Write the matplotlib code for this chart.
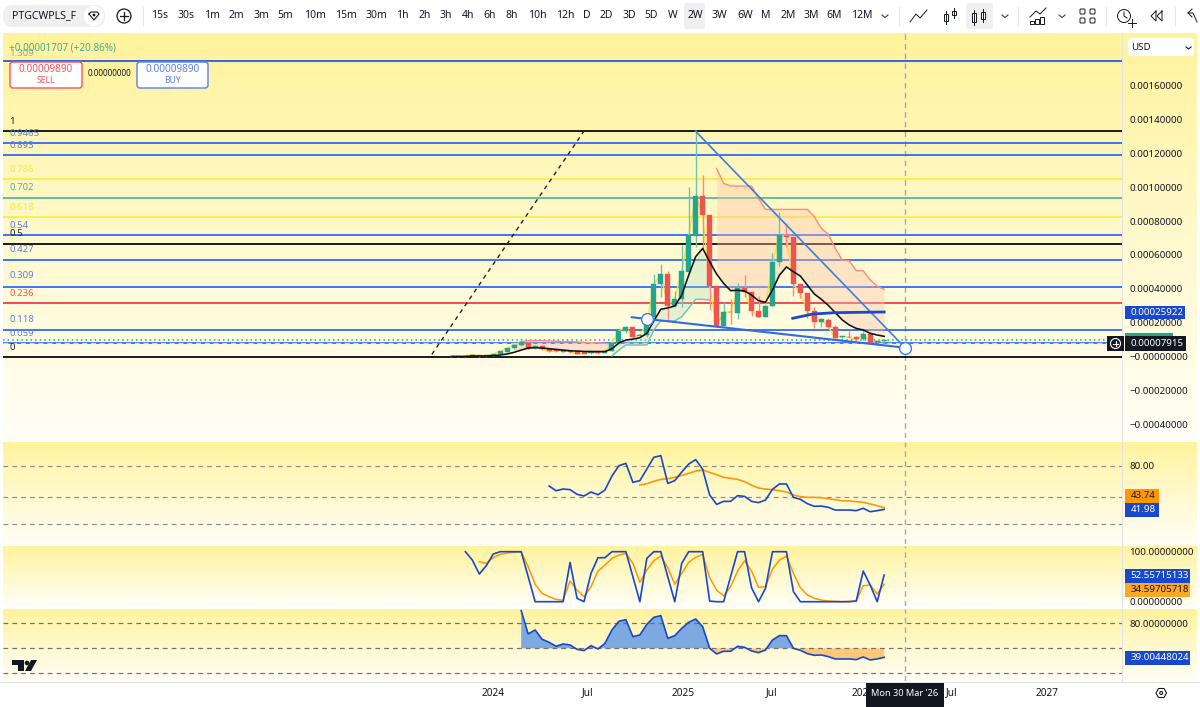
# -*- coding: utf-8 -*-
"""PTGCWPLS 2W chart with fib levels and three lower panes."""
import numpy as np
import matplotlib
matplotlib.use("Agg")
import matplotlib.pyplot as plt
from matplotlib.colors import LinearSegmentedColormap
from matplotlib.patches import Rectangle, FancyBboxPatch, Circle, Polygon

plt.rcParams["font.family"] = ["Noto Sans", "DejaVu Sans"]

W, H = 1200, 707
PRICE_UNIT = 1e-4

# candles, price in 1e-4 USD
opens = [.01,.01,.03,.05,.07,.03,.03,.15,.27,.48,.68,.82,.48,.64,.46,.40,.29,.34,.30,.29,.19,
         .30,.21,.34,.78,1.53,1.72,1.21,1.27,2.35,4.28,4.85,3.00,3.40,5.01,7.14,9.48,8.36,4.16,
         1.80,2.65,2.59,4.03,3.83,2.69,2.33,2.98,5.60,7.14,7.08,4.26,3.73,2.67,2.06,2.16,1.76,
         1.13,1.17,1.13,1.01,1.31,.86,.90]
closes = [.03,.03,.05,.11,.03,.07,.15,.31,.50,.70,.84,.46,.64,.42,.32,.30,.38,.27,.17,.17,.32,
          .19,.34,.78,1.53,1.72,1.15,1.27,1.92,4.28,4.85,3.00,3.42,5.03,7.18,9.48,8.36,4.16,1.80,
          2.63,2.61,4.03,3.83,2.69,2.33,2.98,5.60,7.16,7.08,4.26,3.73,2.69,2.06,2.20,1.76,1.11,
          1.19,1.13,1.01,1.31,.82,.90,.97]
highs = [.05,.05,.07,.13,.09,.09,.17,.33,.52,.74,1.03,.86,.66,.66,.48,.42,.40,.36,.32,.31,.34,
         .32,.36,.80,1.55,1.82,1.74,1.35,2.00,4.87,5.44,5.07,3.87,6.59,10.03,13.38,10.72,8.36,
         4.16,3.24,3.40,4.36,4.81,3.83,3.59,2.98,6.13,8.55,7.91,7.08,4.26,3.73,2.94,2.26,2.26,
         1.86,1.19,1.51,1.22,1.57,1.31,.97,1.01]
lows = [0,0,0,.03,0,0,.01,.13,.25,.46,.64,.42,.44,.38,.28,.27,.25,.23,.15,.15,.17,.17,.19,.32,
        .76,1.37,1.13,1.15,1.17,2.33,3.49,2.15,2.90,2.90,4.91,6.45,6.43,2.75,1.80,1.80,1.92,2.20,
        3.53,2.39,2.33,2.33,2.98,5.35,6.49,3.59,3.44,2.29,1.66,1.72,1.66,1.07,1.07,1.07,.97,.97,
        .74,.82,.82]
ma_line = [0,0,0,.03,.03,.03,.05,.09,.15,.25,.38,.50,.52,.50,.46,.42,.38,.34,.32,.30,.29,.29,.29,
           .46,.80,.97,1.03,1.11,1.37,2.10,2.79,2.87,2.98,3.63,4.81,5.90,6.39,5.60,4.87,4.32,3.89,
           3.91,3.87,3.63,3.30,3.20,3.93,4.81,5.29,5.01,4.75,4.22,3.69,3.38,3.02,2.59,2.16,1.86,
           1.66,1.57,1.37,1.27,1.19]
upper_early = [.68,.86,.94,.94,.94,.92,.90,.88,.88,.86,.84,.82,.80,.78,.74]   # bars 9-23
upper_late = [11.11,10.23,10.07,10.07,10.07,10.07,9.34,8.69,8.69,8.69,8.69,8.69,8.69,8.69,8.26,
              7.57,7.22,6.39,5.70,5.66,5.07,5.07,4.52,4.16,3.97]              # bars 38-62
lower_band = [.03,.38,.68,.68,.68,.68,1.57,2.10,2.10,2.10,2.35,2.85,3.38,3.38,3.34]  # bars 23-37

# fib levels: label, price in 1e-4, colour
fib_labels = ["1.309","1","0.9465","0.893","0.786","0.702","0.618","0.54","0.5","0.427","0.309",
              "0.236","0.118","0.059","0"]
fib_prices = [17.45,13.32,12.61,11.90,10.47,9.35,8.23,7.19,6.66,5.69,4.12,3.14,1.57,.79,0]
fib_colors = ["#1E53E5","#000000","#2962FF","#2962FF","#FFEB3B","#4DB6A0","#FFEB3B","#2962FF",
              "#000000","#2962FF","#2962FF","#F23645","#2962FF","#2962FF","#000000"]
fib_text_y = [53,122,133,145,169,188,207,225,234,249,276,293,320,333,347]

rsi_blue = [59.2,54.4,56.1,55.5,50.7,49.0,53.1,50.3,55.1,69.4,80.0,82.4,63.0,64.7,76.6,88.6,90.3,
            61.9,64.7,73.5,81.7,86.2,76.3,50.0,40.4,43.5,43.5,49.3,48.6,43.5,42.2,44.9,55.8,61.3,
            61.3,47.6,45.6,41.1,38.4,38.7,37.4,34.6,34.6,34.6,34.0,36.4,32.9,34.0,35.3]  # bars 14-62
rsi_orange = [60.2,61.6,64.0,66.0,66.7,68.1,70.1,72.2,74.6,75.6,73.2,70.8,68.1,67.1,66.0,63.6,
              60.2,57.2,56.1,55.5,54.4,53.1,50.0,48.3,47.6,47.6,47.3,46.2,45.2,44.2,43.9,43.2,
              42.5,40.8,39.1,37.0]  # bars 27-62
stoch_k = [100,83.3,55.3,72,95.3,100,100,100,100,50,0,0,0,0,0,78.7,6.7,0,56.7,88,88,100,100,100,
           50,0,86.7,100,100,50,0,76.7,100,100,100,1.3,0,0,50,100,100,28,0,26.7,100,100,100,20,0,
           0,0,0,0,0,0,0,1.3,61.3,33.3,0,53.3]  # bars 2-62
stoch_d = [80,76.7,88,94.7,97.3,98.7,100,70,34.7,16.7,10,4.7,2.7,41.3,23.3,10,30,61.3,73.3,86.7,
           93.3,96.7,76.7,38.7,63.3,82,91.3,68,35.3,56.7,78.7,88.7,94.7,48,23.3,11.3,30,61.3,82,
           61.3,28.7,30,65.3,83.3,91.3,56.7,28,13.3,6.7,3.3,1.3,.7,0,.7,1.3,32,33.3,15.3,34.7]  # bars 4-62
osc_line = [95.2,67.2,72,60.8,57.2,52.4,55.2,54,48.8,47.2,53.2,49.2,56,72,82.4,84.4,64,66,78.8,
            87.2,89.2,62,65.2,74,81.2,85.2,76,50,43.2,46.4,46.4,52.4,51.2,46.8,44.8,48,60,65.2,
            65.2,50,47.6,43.6,41.6,42,40,37.2,37.2,37.2,36.4,39.6,36,37.2,39.2]  # bars 10-62

x_labels = ["2024","Jul","2025","Jul","2026","Jul","2027"]
x_ticks = [5.96,19.57,33.18,45.93,58.97,71.7,85.3]
main_ticks = [.0016,.0014,.0012,.001,.0008,.0006,.0004,.0002,0,-.0002,-.0004]
main_tick_labels = ["0.00160000","0.00140000","0.00120000","0.00100000","0.00080000","0.00060000",
                    "0.00040000","0.00020000","\u22120.00000000","\u22120.00020000","\u22120.00040000"]
intervals = ["15s","30s","1m","2m","3m","5m","10m","15m","30m","1h","2h","3h","4h","6h","8h","10h",
             "12h","D","2D","3D","5D","W","2W","3W","6W","M","2M","3M","6M","12M"]
interval_px = [160,186,212,236,261,285,315,346,376,402,425,446,468,490,512,537,565,587,606,629,651,
               673,695,719,745,766,788,811,834,862]

GREEN, RED, BLUE, DARKBLUE, ORANGE = "#22A68E", "#EF5350", "#2962FF", "#1848CC", "#FF9800"
INK, CROSS, SEP = "#131722", "#A8A8A8", "#E3E3E3"
X0, X1 = 3, 1122
PX_PER_BAR, BAR0_PX = 6.98, 451.4
XLIM = ((X0 - BAR0_PX) / PX_PER_BAR, (X1 - BAR0_PX) / PX_PER_BAR)
CROSS_BAR = 65.0
LABEL_SIZE = 7.0

fig = plt.figure(figsize=(W / 100, H / 100), dpi=100, facecolor="white")

# chrome layers in pixel coordinates
def px_layer(z):
    a = fig.add_axes([0, 0, 1, 1], zorder=z)
    a.set_xlim(0, W); a.set_ylim(H, 0); a.axis("off"); a.patch.set_alpha(0)
    return a

bg = px_layer(0)
ui = px_layer(10)
grad = LinearSegmentedColormap.from_list("g", ["#FFF39D", "#FFF9CC", "#FFFEF6"])
ramp = np.linspace(0, 1, 128)[:, None]
for top, bot in [(33, 439), (442, 544), (546, 606), (609, 681)]:
    bg.imshow(ramp, cmap=grad, aspect="auto", extent=(3, 1197, bot, top), zorder=1)
bg.set_xlim(0, W); bg.set_ylim(H, 0)
bg.plot([X1, X1], [33, 681], color=SEP, lw=0.8, zorder=2)
bg.plot([0, W], [682, 682], color=SEP, lw=0.8, zorder=2)

def pane(top, bot, ylim):
    a = fig.add_axes([X0 / W, 1 - bot / H, (X1 - X0) / W, (bot - top) / H], zorder=5)
    a.patch.set_alpha(0)
    a.set_xlim(*XLIM); a.set_ylim(*ylim)
    for s in a.spines.values():
        s.set_visible(False)
    a.yaxis.tick_right()
    a.tick_params(axis="y", length=0, pad=5.5, labelsize=LABEL_SIZE, labelcolor=INK)
    a.set_xticks([]); a.set_yticks([])
    a.axvline(CROSS_BAR, color=CROSS, lw=1, ls=(0, (4, 3)), zorder=1)
    return a

# ---- main pane ----
ax = pane(33, 438, (-0.0004815, 0.0019113))
ax.set_yticks(main_ticks); ax.set_yticklabels(main_tick_labels)
o, c, h, l = [np.array(v) * PRICE_UNIT for v in (opens, closes, highs, lows)]
ma = np.array(ma_line) * PRICE_UNIT
bars = np.arange(len(o))
for price, col in zip(fib_prices, fib_colors):
    ax.axhline(price * PRICE_UNIT, color=col, lw=1.25, zorder=2)
ax.axhline(1.0 * PRICE_UNIT, color="#22A68E", lw=1.1, ls=(0, (1, 2)), zorder=3)
ax.axhline(0.79 * PRICE_UNIT, color="#DDDDDD", lw=0.9, ls=(0, (4, 3)), zorder=3)

x_up = np.arange(9, 24)
ax.fill_between(x_up, np.array(upper_early) * PRICE_UNIT, ma[x_up], color="#F7A8A0", alpha=0.3, lw=0, zorder=3)
ax.plot(x_up, np.array(upper_early) * PRICE_UNIT, color="#F98B80", lw=1, zorder=4)
x_late = np.arange(38, 63)
ax.fill_between(x_late, np.array(upper_late) * PRICE_UNIT, ma[x_late], color="#FBC4A8", alpha=0.38, lw=0, zorder=3)
ax.plot(x_late, np.array(upper_late) * PRICE_UNIT, color="#F98B80", lw=1, zorder=4)
x_low = np.arange(23, 38)
ax.fill_between(x_low, np.array(lower_band) * PRICE_UNIT, ma[x_low], color="#A8D8B8", alpha=0.3, lw=0, zorder=3)
ax.plot(x_low, np.array(lower_band) * PRICE_UNIT, color="#6CC5B0", lw=1, zorder=4)

ax.plot(bars, c, color="#FFE227", lw=1, zorder=5)
up = c >= o
colors = np.where(up, GREEN, RED)
wick_cols = np.where(up, "#6CC5B0", "#F98B80")
ax.vlines(bars, l, h, colors=wick_cols, lw=1, zorder=6)
ax.bar(bars, np.abs(c - o), bottom=np.minimum(o, c), width=0.72, color=colors, edgecolor=colors, lw=0.3, zorder=7)
ax.plot(bars, ma, color="#111111", lw=1.15, zorder=8)

# drawings
ax.plot([-2.8, 19.0], [.13 * PRICE_UNIT, 13.32 * PRICE_UNIT], color="#222222", lw=1, ls=(0, (3, 3)), zorder=4)
ax.plot([34.96, 65.0], [13.32 * PRICE_UNIT, .52 * PRICE_UNIT], color="#3D7FE0", lw=1.2, zorder=9)
ax.plot([25.83, 65.0], [2.32 * PRICE_UNIT, .52 * PRICE_UNIT], color="#2F6BE8", lw=1.5, zorder=9)
ax.plot([48.9, 51.8, 55.0, 62.0], [2.26 * PRICE_UNIT, 2.51 * PRICE_UNIT, 2.59 * PRICE_UNIT, 2.63 * PRICE_UNIT],
        color=DARKBLUE, lw=2, zorder=9)
ax.plot([28.0, 65.0], [2.22 * PRICE_UNIT, .52 * PRICE_UNIT], ls="none", marker="o", ms=8.5, mfc="white",
        mec="#3D7FE0", mew=1, zorder=10)

# ---- RSI pane ----
rsi = pane(442, 544, (80 - (544 - 465.7) / 0.977, 80 + (465.7 - 442) / 0.977))
rsi.set_yticks([80]); rsi.set_yticklabels(["80.00"])
for lv in (80, 48.3, 20):
    rsi.axhline(lv, color="#8C8C8C", lw=0.85, ls=(0, (4, 3.5)), zorder=2)
rsi.plot(np.arange(27, 63), rsi_orange, color=ORANGE, lw=1.2, zorder=3)
rsi.plot(np.arange(14, 63), rsi_blue, color=DARKBLUE, lw=1.2, zorder=4)

# ---- stochastic pane ----
st = pane(546, 606, ((601.7 - 606) / 0.5, (601.7 - 546) / 0.5))
st.set_yticks([100, 0]); st.set_yticklabels(["100.00000000", "0.00000000"])
st.plot(np.arange(4, 63), stoch_d, color=ORANGE, lw=1.1, zorder=3)
st.plot(np.arange(2, 63), stoch_k, color=DARKBLUE, lw=1.2, zorder=4)

# ---- oscillator pane ----
osc = pane(609, 681, (50 - (681 - 648.3) / 0.833, 50 + (648.3 - 609) / 0.833))
osc.set_yticks([80]); osc.set_yticklabels(["80.00000000"])
x_osc = np.arange(10, 63)
v_osc = np.array(osc_line)
osc.fill_between(x_osc, v_osc, 50, where=v_osc >= 50, interpolate=True, color="#7DA8E0", lw=0, zorder=2)
osc.fill_between(x_osc, v_osc, 50, where=v_osc <= 50, interpolate=True, color="#FFC878", lw=0, zorder=2)
for lv in (80, 50, 20):
    osc.axhline(lv, color="#707070", lw=0.85, ls=(0, (4, 3.5)), zorder=3)
osc.plot(x_osc, v_osc, color=DARKBLUE, lw=1.2, zorder=4)

# x axis labels sit under the last pane
for lab, t in zip(x_labels, x_ticks):
    ui.text(BAR0_PX + t * PX_PER_BAR, 693, lab, ha="center", va="center", fontsize=7.3, color=INK)

# ---- text on the main pane ----
text_cols = {"#000000": "#222222", "#2962FF": "#5B7FEA", "#1E53E5": "#9AA0A6", "#FFEB3B": "#FFE53B",
             "#4DB6A0": "#4DB6A0", "#F23645": "#F2554F"}
for lab, col, y in zip(fib_labels, fib_colors, fib_text_y):
    ui.text(9, y, lab, fontsize=6.9, color=text_cols[col], ha="left", va="center")
ui.text(9, 48, "+0.00001707 (+20.86%)", fontsize=7.1, color="#3FAE98", ha="left", va="center")

def button(x0, x1, y0, y1, edge, top_txt, low_txt):
    ui.add_patch(FancyBboxPatch((x0 + 2, y0 + 2), x1 - x0 - 4, y1 - y0 - 4, boxstyle="round,pad=2,rounding_size=3",
                                fc="white", ec=edge, lw=1))
    ui.text((x0 + x1) / 2, y0 + 7.5, top_txt, fontsize=7.2, color=edge, ha="center", va="center")
    ui.text((x0 + x1) / 2, y0 + 18.5, low_txt, fontsize=6.2, color=edge, ha="center", va="center")

button(10, 82, 62, 88, "#F7525F", "0.00009890", "SELL")
button(137, 208, 62, 88, "#5B7FEA", "0.00009890", "BUY")
ui.text(109, 73, "0.00000000", fontsize=5.8, color=INK, ha="center", va="center")

# tags on the price scale
def tag(x0, x1, y0, y1, fc, txt, tc="white"):
    ui.add_patch(Rectangle((x0, y0), x1 - x0, y1 - y0, fc=fc, ec="none", zorder=3))
    ui.text(x0 + 5.5, (y0 + y1) / 2, txt, fontsize=LABEL_SIZE, color=tc, ha="left", va="center", zorder=4)

ui.add_patch(Rectangle((1125, 333), 48, 3, fc=GREEN, ec="none", zorder=2))
tag(1125, 1185, 306, 319, DARKBLUE, "0.00025922")
tag(1125, 1186, 336, 351, INK, "0.00007915")
tag(1125, 1159, 489, 503, ORANGE, "43.74", INK)
tag(1125, 1159, 503, 517, DARKBLUE, "41.98")
tag(1125, 1190, 569, 583, DARKBLUE, "52.55715133")
tag(1125, 1190, 583, 597, "#FFA726", "34.59705718", INK)
tag(1125, 1190, 651, 665, DARKBLUE, "39.00448024")

# plus button, crosshair date
ui.add_patch(Rectangle((1107, 336), 17, 15, fc=INK, ec="none", zorder=3))
ui.add_patch(Circle((1115.5, 343.5), 5, fc="none", ec="white", lw=0.8, zorder=4))
ui.plot([1113, 1118], [343.5, 343.5], color="white", lw=0.8, zorder=4)
ui.plot([1115.5, 1115.5], [341, 346], color="white", lw=0.8, zorder=4)
ui.add_patch(Rectangle((866, 683), 78, 24, fc=INK, ec="none", zorder=3))
ui.text(905, 693, "Mon 30 Mar '26", fontsize=6.6, color="white", ha="center", va="center", zorder=4)

# currency box
ui.add_patch(FancyBboxPatch((1130, 40), 62, 14, boxstyle="round,pad=2,rounding_size=3", fc="white", ec="none"))
ui.text(1131, 48, "USD", fontsize=7, color=INK, ha="left", va="center")
ui.plot([1186, 1188.5, 1191], [47, 49, 47], color=INK, lw=0.8)

# logo
ui.add_patch(Polygon([(12, 660), (24, 660), (24, 671), (18, 671), (18, 665), (12, 665)], fc=INK, ec="none"))
ui.add_patch(Circle((27, 663), 2.3, fc=INK, ec="none"))
ui.add_patch(Polygon([(31, 660), (37, 660), (31, 671), (25, 671)], fc=INK, ec="none"))

# ---- toolbar ----
ui.add_patch(FancyBboxPatch((5, 7), 98, 18, boxstyle="round,pad=2,rounding_size=10", fc="#EFEFEF", ec="none"))
ui.add_patch(Circle((94, 16), 10, fc="white", ec="none"))
ui.text(12, 16, "PTGCWPLS_F", fontsize=7.6, fontweight="bold", color=INK, ha="left", va="center")
ui.plot([89, 91, 97, 99, 94, 89], [14, 12, 12, 14, 20, 14], color=INK, lw=0.8)
ui.add_patch(Circle((94, 15), 1.4, fc=INK, ec="none"))
ui.add_patch(Circle((124, 16), 7, fc="none", ec=INK, lw=0.9))
ui.plot([120, 128], [16, 16], color=INK, lw=0.9)
ui.plot([124, 124], [12, 20], color=INK, lw=0.9)
ui.add_patch(FancyBboxPatch((686, 5), 17, 22, boxstyle="round,pad=2,rounding_size=3", fc="#EFEFEF", ec="none"))
ui.add_patch(FancyBboxPatch((968, 5), 23, 22, boxstyle="round,pad=2,rounding_size=3", fc="#EFEFEF", ec="none"))
for lab, x in zip(intervals, interval_px):
    ui.text(x, 16, lab, fontsize=7.5, color=INK, ha="center", va="center")
for x in (143, 899, 1018, 1106, 1175):
    ui.plot([x, x], [7, 25], color=SEP, lw=0.8)
for x in (885, 1005, 1062):
    ui.plot([x - 3, x, x + 3], [15, 17.5, 15], color="#444444", lw=0.8)

# line icon
ui.plot([910, 916, 920, 927], [22, 14, 18, 10], color=INK, lw=0.7)
# candle icons
for x, y0, y1 in [(946, 11, 24), (954, 8, 18), (974, 10, 25), (983, 9, 22)]:
    ui.plot([x, x], [y0, y1], color=INK, lw=0.7)
    ui.add_patch(Rectangle((x - 2, y0 + 3), 4, y1 - y0 - 6, fc="white", ec=INK, lw=0.7))
# indicators icon
ui.plot([1030, 1036, 1040, 1046], [17, 11, 14, 8], color=INK, lw=0.7)
for x, y0 in [(1030, 21), (1035, 19), (1040, 17)]:
    ui.add_patch(Rectangle((x, y0), 4, 24 - y0, fc="none", ec=INK, lw=0.7))
# layout icon
for x in (1080, 1090):
    for y in (9, 18):
        ui.add_patch(FancyBboxPatch((x, y), 5, 5, boxstyle="round,pad=0,rounding_size=1", fc="none", ec=INK, lw=0.7))
# alert icon
ui.add_patch(Circle((1124, 16), 6.5, fc="none", ec=INK, lw=0.7))
ui.plot([1124, 1124, 1127], [12, 16, 18], color=INK, lw=0.7)
ui.plot([1128, 1136], [23, 23], color=INK, lw=0.7)
ui.plot([1132, 1132], [19, 27], color=INK, lw=0.7)
# replay, undo
ui.plot([1156, 1151, 1156, 1156], [11, 16, 21, 11], color=INK, lw=0.7)
ui.plot([1162, 1157, 1162, 1162], [11, 16, 21, 11], color=INK, lw=0.7)
ui.plot([1197, 1193, 1188, 1192], [22, 13, 13, 9], color=INK, lw=0.7)
ui.plot([1188, 1192], [13, 17], color=INK, lw=0.7)

# settings hexagon
ui.add_patch(Polygon([(1156, 693), (1158.5, 688.5), (1164, 688.5), (1166.5, 693), (1164, 697.5), (1158.5, 697.5)],
                     fc="none", ec=INK, lw=0.8))
ui.add_patch(Circle((1161.2, 693), 1.5, fc="none", ec=INK, lw=0.8))

fig.savefig("out.png", dpi=100, facecolor="white")
